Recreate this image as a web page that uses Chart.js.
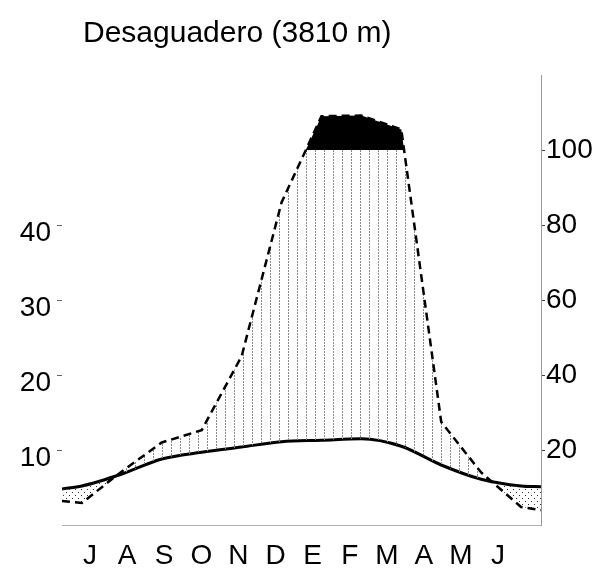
<!DOCTYPE html>
<html><head><meta charset="utf-8">
<script src="https://cdn.jsdelivr.net/npm/chart.js@4"></script>
<style>html,body{margin:0;padding:0;background:#fff}</style>
</head><body>
<canvas id="c" width="605" height="574" style="width:605px;height:574px;display:block"></canvas>
<script>
const chartTitle = 'Desaguadero (3810 m)';
const months = ['J','A','S','O','N','D','E','F','M','A','M','J'];
const tempC = [5.2, 6.8, 8.8, 9.7, 10.4, 11.1, 11.3, 11.5, 10.5, 8.0, 6.1, 5.2];
const precipMm = [5.9, 14.3, 22, 25.3, 45, 86, 190, 192, 155, 27.5, 14, 4.8];
const tempEdges = [4.8, 5.1];
const precipEdges = [6.4, 4.0];
const tempTicks = [10, 20, 30, 40];
const precipTicks = [20, 40, 60, 80, 100];

// Walter-Lieth scale: 20 mm = 10 °C up to 100 mm, above that 200 mm = 10 °C
const toTempScale = p => p <= 100 ? p / 2 : 50 + (p - 100) / 20;

const tempPts = [{x: 0, y: tempEdges[0]}]
  .concat(tempC.map((v, i) => ({x: i + 0.5, y: v})))
  .concat([{x: 12, y: tempEdges[1]}]);
const precipPts = [{x: 0, y: toTempScale(precipEdges[0])}]
  .concat(precipMm.map((v, i) => ({x: i + 0.5, y: toTempScale(v)})))
  .concat([{x: 12, y: toTempScale(precipEdges[1])}]);

function makePattern(w, h, draw) {
  const c = document.createElement('canvas');
  c.width = w; c.height = h;
  const g = c.getContext('2d');
  draw(g);
  return document.getElementById('c').getContext('2d').createPattern(c, 'repeat');
}
const hatch = makePattern(9, 3, g => { g.fillStyle = '#8a8a8a'; g.fillRect(0, 0, 1, 2); });
const dots = makePattern(6, 6, g => { g.fillStyle = '#333'; g.fillRect(0, 0, 1, 1); g.fillRect(3, 3, 1, 1); });

const font = {family: '"Liberation Sans", Arial, Helvetica, sans-serif', size: 28};

const titlePlugin = {
  id: 'titleText',
  afterDraw(chart) {
    const ctx = chart.ctx;
    ctx.save();
    ctx.font = '30px "Liberation Sans", Arial, sans-serif';
    ctx.fillStyle = '#000';
    ctx.textBaseline = 'alphabetic';
    ctx.textAlign = 'left';
    ctx.fillText(chartTitle, 83, 42);
    ctx.restore();
  }
};

new Chart(document.getElementById('c'), {
  type: 'line',
  data: {
    datasets: [
      {data: precipPts, xAxisID: 'x', yAxisID: 'y', borderColor: 'rgba(0,0,0,0)', borderWidth: 0,
       pointRadius: 0, tension: 0, fill: {target: {value: 50}, above: '#000', below: 'rgba(0,0,0,0)'}},
      {data: precipPts, xAxisID: 'x', yAxisID: 'y', borderColor: '#000', borderWidth: 2.5, borderDash: [8, 5],
       pointRadius: 0, tension: 0, fill: {target: 2, above: hatch, below: dots}},
      {data: tempPts, xAxisID: 'x', yAxisID: 'y', borderColor: '#000', borderWidth: 3,
       pointRadius: 0, fill: false, cubicInterpolationMode: 'monotone'}
    ]
  },
  options: {
    responsive: false,
    animation: false,
    layout: {padding: {top: 75, left: 0, right: 0, bottom: 0}},
    plugins: {legend: {display: false}, tooltip: {enabled: false}, title: {display: false}},
    scales: {
      x: {type: 'linear', min: 0, max: 12, display: false},
      xl: {
        type: 'linear', position: 'bottom', min: -0.755, max: 12.156,
        grid: {display: false},
        border: {display: true, color: '#b0b0b0', width: 1, dash: [2, 2]},
        ticks: {stepSize: 1, includeBounds: false, autoSkip: false, maxRotation: 0, minRotation: 0,
                padding: 6, color: '#000', font: font,
                callback: v => (Number.isInteger(v) && v >= 0 && v < months.length) ? months[v] : ''},
        afterFit: s => { s.height = 49; }
      },
      y: {
        type: 'linear', position: 'left', min: 0, max: 60,
        afterBuildTicks: s => { s.ticks = tempTicks.map(v => ({value: v})); },
        grid: {display: true, drawOnChartArea: false, drawTicks: true, tickLength: 5, color: '#666'},
        border: {display: false},
        ticks: {color: '#000', font: font, padding: 6, labelOffset: 8},
        afterFit: s => { s.width = 62; }
      },
      y2: {
        type: 'linear', position: 'right', min: 0, max: 120,
        afterBuildTicks: s => { s.ticks = precipTicks.map(v => ({value: v})); },
        grid: {display: true, drawOnChartArea: false, drawTicks: true, tickLength: 4, color: '#444'},
        border: {display: true, color: '#999', width: 1, dash: [2, 2]},
        ticks: {color: '#000', font: font, padding: 1},
        afterFit: s => { s.width = 64; }
      }
    }
  },
  plugins: [titlePlugin]
});
</script>
</body></html>
